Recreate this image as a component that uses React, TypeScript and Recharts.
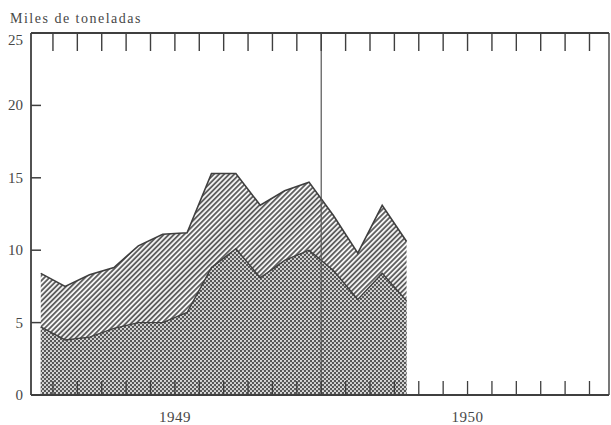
import React from 'react';
import { AreaChart, Area, XAxis, YAxis, ReferenceLine } from 'recharts';

// ---- data (thousand tonnes, monthly, Jan 1949 - Apr 1950) ----
const monthLabels = ['Ene 49', 'Feb 49', 'Mar 49', 'Abr 49', 'May 49', 'Jun 49', 'Jul 49', 'Ago 49', 'Sep 49', 'Oct 49', 'Nov 49', 'Dic 49', 'Ene 50', 'Feb 50', 'Mar 50', 'Abr 50'];
const monthCenters = [0.5, 1.5, 2.5, 3.5, 4.5, 5.5, 6.5, 7.5, 8.5, 9.5, 10.5, 11.5, 12.5, 13.5, 14.5, 15.5];
const totalValues = [8.4, 7.5, 8.3, 8.8, 10.3, 11.1, 11.2, 15.3, 15.3, 13.1, 14.1, 14.7, 12.4, 9.8, 13.1, 10.6];
const lowerValues = [4.7, 3.8, 4.0, 4.6, 5.0, 5.0, 5.7, 8.8, 10.1, 8.1, 9.3, 10.0, 8.6, 6.6, 8.4, 6.5];
const monthTicks = [1, 2, 3, 4, 5, 6, 7, 8, 9, 10, 11, 12, 13, 14, 15, 16, 17, 18, 19, 20, 21, 22, 23];
const yearTicks = [6, 18];
const yearLabels = ['1949', '1950'];
const yTicks = [0, 5, 10, 15, 20, 25];
const rightTicks = [5, 10, 15, 20];
const yearBoundary = 12;
const yLabel = 'Miles de toneladas';

const data = monthLabels.map((m, i) => ({
  month: m,
  x: monthCenters[i],
  total: totalValues[i],
  lower: lowerValues[i],
}));

// ---- layout ----
const W = 611;
const H = 425;
const PLOT_LEFT = 31;
const PLOT_TOP = 33;
const PLOT_BOTTOM = 395;
const PLOT_RIGHT = 609;
const INK = '#3f3f3f';
const TEXT = '#474747';
const FONT = '"Liberation Serif", "DejaVu Serif", serif';

const LeftTick = (props: any) => {
  const { y, payload } = props;
  const isTop = payload.value === 25;
  return (
    <g>
      <line x1={PLOT_LEFT} x2={PLOT_LEFT + 10} y1={y} y2={y} stroke={INK} strokeWidth={1.5} />
      <text x={PLOT_LEFT - 8} y={y} dy={isTop ? 12 : 5} textAnchor="end" fontSize={15} fill={TEXT} fontFamily={FONT}>
        {payload.value}
      </text>
    </g>
  );
};

const RightTick = (props: any) => {
  const { y } = props;
  return <line x1={PLOT_RIGHT - 8} x2={PLOT_RIGHT} y1={y} y2={y} stroke={INK} strokeWidth={1.3} />;
};

const TopTick = (props: any) => {
  const { x } = props;
  return <line x1={x} x2={x} y1={PLOT_TOP} y2={PLOT_TOP + 18} stroke={INK} strokeWidth={1.4} />;
};

const BottomTick = (props: any) => {
  const { x, payload } = props;
  const yi = yearTicks.indexOf(payload.value);
  return (
    <g>
      <line x1={x} x2={x} y1={PLOT_BOTTOM - 14} y2={PLOT_BOTTOM} stroke={INK} strokeWidth={1.3} />
      {yi >= 0 ? (
        <text x={x} y={PLOT_BOTTOM + 27} textAnchor="middle" fontSize={15} fill={TEXT} fontFamily={FONT} letterSpacing={0.5}>
          {yearLabels[yi]}
        </text>
      ) : null}
    </g>
  );
};

export default function App() {
  return (
    <div style={{ position: 'absolute', left: 0, top: 0, width: W, height: H, background: '#fff' }}>
      <AreaChart
        width={W}
        height={H}
        data={data}
        margin={{ top: 0, right: 0, bottom: 0, left: 0 }}
      >
        <defs>
          <pattern id="hatch" width="3.6" height="3.6" patternUnits="userSpaceOnUse" patternTransform="rotate(45)">
            <rect width="3.6" height="3.6" fill="#f4f4f4" />
            <line x1="0.9" y1="0" x2="0.9" y2="3.6" stroke="#4d4d4d" strokeWidth="1.6" />
          </pattern>
          <pattern id="dots" width="4" height="4" patternUnits="userSpaceOnUse">
            <rect width="4" height="4" fill="#555555" />
            <circle cx="1" cy="1" r="1.1" fill="#e2e2e2" />
            <circle cx="3" cy="3" r="1.1" fill="#e2e2e2" />
          </pattern>
        </defs>
        <XAxis
          xAxisId="top"
          orientation="top"
          type="number"
          dataKey="x"
          domain={[0.1, 23.8]}
          ticks={monthTicks}
          height={PLOT_TOP}
          tick={<TopTick />}
          tickLine={false}
          tickSize={0}
          axisLine={{ stroke: INK, strokeWidth: 1.8 }}
          allowDataOverflow
        />
        <XAxis
          xAxisId="bottom"
          orientation="bottom"
          type="number"
          dataKey="x"
          domain={[0.1, 23.8]}
          ticks={monthTicks}
          height={H - PLOT_BOTTOM}
          tick={<BottomTick />}
          tickLine={false}
          tickSize={0}
          interval={0}
          axisLine={{ stroke: INK, strokeWidth: 1.8 }}
          allowDataOverflow
        />
        <YAxis
          yAxisId="left"
          orientation="left"
          type="number"
          domain={[0, 25]}
          ticks={yTicks}
          width={PLOT_LEFT}
          tick={<LeftTick />}
          tickLine={false}
          tickSize={0}
          interval={0}
          axisLine={{ stroke: INK, strokeWidth: 1.8 }}
        />
        <YAxis
          yAxisId="right"
          orientation="right"
          type="number"
          domain={[0, 25]}
          ticks={rightTicks}
          width={W - PLOT_RIGHT}
          tick={<RightTick />}
          tickLine={false}
          tickSize={0}
          interval={0}
          axisLine={{ stroke: INK, strokeWidth: 1.4 }}
        />
        <Area
          xAxisId="bottom"
          yAxisId="left"
          type="linear"
          dataKey="total"
          stroke={INK}
          strokeWidth={1.6}
          fill="url(#hatch)"
          fillOpacity={1}
          isAnimationActive={false}
          dot={false}
          activeDot={false}
        />
        <Area
          xAxisId="bottom"
          yAxisId="left"
          type="linear"
          dataKey="lower"
          stroke={INK}
          strokeWidth={1.4}
          fill="url(#dots)"
          fillOpacity={1}
          isAnimationActive={false}
          dot={false}
          activeDot={false}
        />
        <ReferenceLine xAxisId="bottom" yAxisId="left" x={yearBoundary} stroke="#555" strokeWidth={1.2} />
      </AreaChart>
      <svg width={W} height={30} style={{ position: 'absolute', left: 0, top: 0 }}>
        <text x={10} y={23} fontSize={14} fill={TEXT} fontFamily={FONT} letterSpacing={1.5}>
          {yLabel}
        </text>
      </svg>
    </div>
  );
}
